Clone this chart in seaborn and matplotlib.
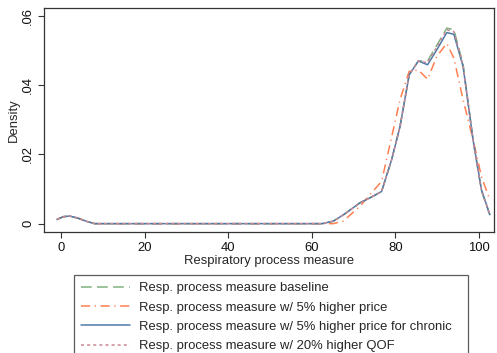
import numpy as np
import pandas as pd
import seaborn as sns
import matplotlib
matplotlib.use("Agg")
import matplotlib.pyplot as plt

x_vals = [-1, 0.5, 2, 4, 6, 8, 62.4, 65.1, 67.5, 71.5, 74, 76.7, 79.1, 81.1, 83.3,
          85.5, 87.7, 89.9, 92.3, 94.0, 96.2, 98.6, 100.6, 102.6]
baseline = [0.0012, 0.002, 0.0022, 0.0016, 0.0007, 0.0, 0.0, 0.0007, 0.0025, 0.006, 0.0075,
            0.0093, 0.0185, 0.028, 0.043, 0.047, 0.047, 0.0515, 0.0565, 0.056, 0.046, 0.024,
            0.0095, 0.0025]
price5 = [0.0012, 0.002, 0.0022, 0.0016, 0.0007, 0.0, 0.0, 0.0, 0.0007, 0.005, 0.0085,
          0.0122, 0.025, 0.0358, 0.044, 0.0444, 0.0417, 0.0483, 0.0521, 0.0478, 0.0358,
          0.0242, 0.0136, 0.0069]
chronic5 = [0.0012, 0.002, 0.0022, 0.0016, 0.0007, 0.0, 0.0, 0.0007, 0.0025, 0.006, 0.0075,
            0.0093, 0.0185, 0.028, 0.043, 0.047, 0.0459, 0.0502, 0.0552, 0.0547, 0.0454,
            0.0242, 0.0098, 0.0026]
qof20 = [0.0012, 0.002, 0.0022, 0.0016, 0.0007, 0.0, 0.0, 0.0007, 0.0025, 0.006, 0.0075,
         0.0093, 0.0185, 0.028, 0.043, 0.047, 0.0465, 0.051, 0.056, 0.0555, 0.0458, 0.024,
         0.0096, 0.0025]
labels = ["Resp. process measure baseline",
          "Resp. process measure w/ 5% higher price",
          "Resp. process measure w/ 5% higher price for chronic",
          "Resp. process measure w/ 20% higher QOF"]
x_ticks = [0, 20, 40, 60, 80, 100]
y_ticks = [0, 0.02, 0.04, 0.06]
y_ticklabels = ["0", ".02", ".04", ".06"]

sns.set_theme(style="white")
plt.rcParams['font.family'] = ['Liberation Sans', 'DejaVu Sans']
FS = 9.4

fig = plt.figure(figsize=(4.97, 3.53), dpi=100)
ax = fig.add_axes([44/497, (353-232.3)/353, (494-44)/497, (232.3-8)/353])

styles = [
    dict(color="#7fb27f", linestyle=(0, (7, 3.5)), lw=1.1),
    dict(color="#ff7f50", linestyle=(0, (6, 3, 0.8, 3)), lw=1.1),
    dict(color="#4f7aa8", linestyle="-", lw=1.1),
    dict(color="#c88a95", linestyle=(0, (2, 2)), lw=1.1),
]
series = [baseline, price5, chronic5, qof20]
df = pd.DataFrame({"x": x_vals})
for lab, s, st in zip(labels, series, styles):
    df[lab] = s
    sns.lineplot(x=df["x"], y=df[lab], ax=ax, label=lab, **st)

ax.set_xlim(-4.1, 103.6)
ax.set_ylim(-0.0025, 0.0623)
ax.set_xticks(x_ticks)
ax.set_xticklabels([str(t) for t in x_ticks], fontsize=FS)
ax.set_yticks(y_ticks)
ax.set_yticklabels(y_ticklabels, fontsize=FS, rotation=90, va="center")
ax.set_xlabel("Respiratory process measure", fontsize=FS, labelpad=1)
ax.set_ylabel("Density", fontsize=FS, labelpad=2)
ax.tick_params(axis="both", direction="out", length=4, width=0.8, color="#333333",
               bottom=True, left=True, pad=3, labelcolor="#111111")
for sp in ax.spines.values():
    sp.set_color("#333333")
    sp.set_linewidth(0.9)

ax.get_legend().remove()
handles, labs = ax.get_legend_handles_labels()
leg = fig.legend(handles, labs, loc="upper left",
                 bbox_to_anchor=(74/497, 0, (468-74)/497, 1 - 275/353), mode="expand",
                 ncol=1, fontsize=FS, frameon=True, fancybox=False, edgecolor="#333333",
                 handlelength=3.75, handletextpad=0.7, labelspacing=0.55, borderpad=0.55,
                 borderaxespad=0)
leg.get_frame().set_linewidth(0.9)

fig.savefig("out.png", dpi=100)
